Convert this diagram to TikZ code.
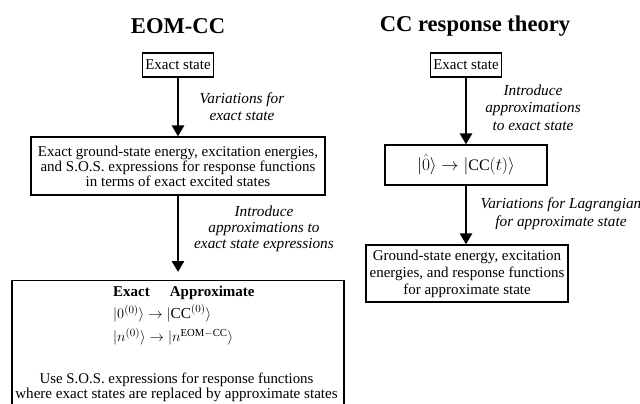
\documentclass[tikz,border=0pt]{standalone}
\usepackage{fontspec}
\setmainfont{Liberation Serif}
\usepackage{amsmath}
\usetikzlibrary{arrows.meta}

\tikzset{
  heading/.style={font=\fontsize{22.6}{24}\selectfont\bfseries},
  box/.style={draw, line width=1.2pt, align=center, inner sep=3pt,
    font=\fontsize{15}{15}\selectfont},
  flow/.style={line width=2.6pt, -{Triangle[length=11pt,width=12pt]}},
  note/.style={align=center, font=\fontsize{15.3}{17}\selectfont\itshape},
  plain/.style={inner sep=0pt, font=\fontsize{15}{15}\selectfont},
}

\begin{document}
\begin{tikzpicture}[x=1pt,y=-1pt]
	
	% 画面范围 (像素坐标, y 向下)
	\useasboundingbox (0,0) rectangle (640,404);
	\clip (0,0) rectangle (640,404);
	
	% 左列: EOM-CC
	\def\xl{178} % 左列中心
	\node[heading] (eomtitle) at (\xl,26) {EOM-CC};
	\node[box, minimum height=24pt] (eomexact) at (\xl,65) {Exact state};
	\node[box, minimum width=294pt, minimum height=58pt] (eomsos) at (\xl,166)
		{Exact ground-state energy, excitation energies,\\
		 and S.O.S. expressions for response functions\\
		 in terms of exact excited states};
	\node[box, anchor=north, minimum width=332pt, minimum height=150pt] (eomapprox) at (\xl,280) {};
	
	% 方框内的文字
	\node[plain, anchor=west, font=\fontsize{15}{15}\selectfont\bfseries] (eomhead) at (113,293) {Exact\hspace{20pt}Approximate};
	\node[plain, anchor=west, font=\fontsize{15.3}{15}\selectfont] (eomground) at (113,313) {$|0^{(0)}\rangle \rightarrow |\mathrm{CC}^{(0)}\rangle$};
	\node[plain, anchor=west, font=\fontsize{15.3}{15}\selectfont] (eomexcited) at (113,337) {$|n^{(0)}\rangle \rightarrow |n^{\mathrm{EOM-CC}}\rangle$};
	\node[plain, anchor=base, font=\fontsize{14.85}{15}\selectfont] (eomuse) at (176.5,383) {Use S.O.S. expressions for response functions};
	\node[plain, anchor=base, font=\fontsize{15.1}{15}\selectfont] (eomwhere) at (176.5,398) {where exact states are replaced by approximate states};
	
	% 箭头与说明
	\draw[flow] (eomexact) -- (eomsos);
	\draw[flow, shorten >=8pt] (eomsos) -- (eomapprox);
	\node[note] (eomvar) at (242,106.5) {Variations for\\exact state};
	\node[note, font=\fontsize{15.3}{16}\selectfont\itshape] (eomintro) at (264,229) {Introduce\\approximations to\\exact state expressions};
	
	% 右列: CC response theory
	\node[heading] (cctitle) at (475,26) {CC response theory};
	\node[box, minimum height=24pt] (ccexact) at (466,65) {Exact state};
	\node[box, minimum width=162pt, minimum height=40pt, font=\fontsize{16}{16}\selectfont] (ccket) at (466,165)
		{$|\hat{0}\rangle \rightarrow |\mathrm{CC}(t)\rangle$};
	\node[box, minimum width=202pt, minimum height=57pt, font=\fontsize{15}{17}\selectfont] (ccresult) at (467,273.5)
		{Ground-state energy, excitation\\
		 energies, and response functions\\
		 for approximate state};
	
	\draw[flow] (ccexact) -- (ccket);
	\draw[flow] (ccket.south -| ccexact) -- (ccresult.north -| ccexact);
	\node[note, font=\fontsize{15.3}{17.5}\selectfont\itshape] (ccintro) at (533,107.5) {Introduce\\approximations\\to exact state};
	\node[note, font=\fontsize{15.3}{18}\selectfont\itshape] (ccvar) at (561,214) {Variations for Lagrangian\\for approximate state};
	
\end{tikzpicture}
\end{document}
